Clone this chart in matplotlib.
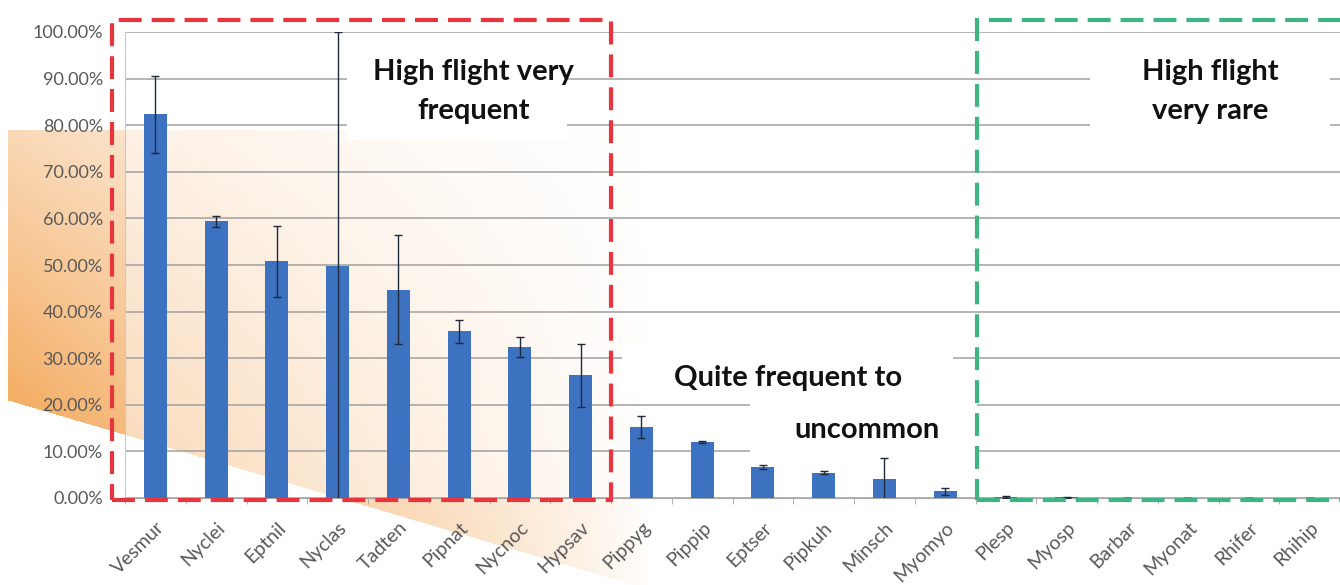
import matplotlib.pyplot as plt
import numpy as np
from matplotlib.patches import Rectangle

plt.rcParams['font.family'] = ['Lato', 'DejaVu Sans']

species = ["Vesmur", "Nyclei", "Eptnil", "Nyclas", "Tadten", "Pipnat", "Nycnoc", "Hypsav",
           "Pippyg", "Pippip", "Eptser", "Pipkuh", "Minsch", "Myomyo",
           "Plesp", "Myosp", "Barbar", "Myonat", "Rhifer", "Rhihip"]
freq = [82.3, 59.4, 50.8, 49.7, 44.7, 35.8, 32.4, 26.3,
        15.3, 12.0, 6.6, 5.4, 4.1, 1.4,
        0.3, 0.2, 0.0, 0.0, 0.0, 0.0]
err = [8.2, 1.2, 7.6, 50.3, 11.7, 2.5, 2.2, 6.7,
       2.4, 0.3, 0.4, 0.3, 4.5, 0.7,
       0.2, 0.1, 0.0, 0.0, 0.0, 0.0]
yticks = np.arange(0, 101, 10)

W, H = 1340, 585
fig = plt.figure(figsize=(W / 100, H / 100), dpi=100)

# orange decoration behind the chart (pixel grid of the figure)
yy, xx = np.mgrid[0:H, 0:W].astype(float)
diag = 400 + 0.295 * (xx - 8)
t = diag - yy
inside = (xx >= 8) & (yy >= 130) & (t >= 0)
fx = np.clip(1 - (xx - 8) / 640, 0, 1) ** 0.8
a = fx * np.clip(0.45 + 0.55 * (1 - t / 280), 0.2, 1) * inside
rgba = np.zeros((H, W, 4))
rgba[..., 0] = 0.95
rgba[..., 1] = 0.62
rgba[..., 2] = 0.28
rgba[..., 3] = a * 0.85
bg = fig.add_axes([0, 0, 1, 1], zorder=0)
bg.imshow(rgba, extent=[0, W, H, 0], aspect='auto', interpolation='bilinear')
bg.set_xlim(0, W)
bg.set_ylim(H, 0)
bg.axis('off')

ax = fig.add_axes([125 / W, 87 / H, 1215 / W, 466 / H], zorder=1)
ax.set_facecolor((1, 1, 1, 0.5))

x = np.arange(len(species))
ax.bar(x, freq, width=0.38, color='#3D72C1', zorder=3)
ax.errorbar(x, freq, yerr=err, fmt='none', ecolor='#1e2a3c', elinewidth=1,
            capsize=3, capthick=1, zorder=4)

ax.set_xlim(-0.5, len(species) - 0.5)
ax.set_ylim(0, 100)
ax.set_yticks(yticks)
ax.set_yticklabels([f"{v:.2f}%" for v in yticks], fontsize=13, color='#595959')
ax.set_xticks(x)
ax.set_xticklabels(species, rotation=45, ha='right', rotation_mode='anchor',
                   fontsize=14, color='#595959')
ax.set_xticks(np.arange(-0.5, len(species), 1), minor=True)
ax.tick_params(axis='x', which='major', length=0, pad=15)
ax.tick_params(axis='x', which='minor', length=4, color='#a6a6a6')
ax.tick_params(axis='y', length=0, pad=16)

ax.yaxis.grid(True, color='#a0a0a0', lw=1.1)
ax.set_axisbelow(True)
for s in ['top', 'right']:
    ax.spines[s].set_visible(False)
ax.spines['left'].set_color('#bfcbdc')
ax.spines['bottom'].set_color('#a6a6a6')

# dashed group boxes
ax.add_patch(Rectangle((-0.71, -0.4), 8.21, 103.0, fill=False, ec='#e8343c', lw=3,
                       ls=(0, (5.5, 2.4)), clip_on=False, zorder=5))
ax.add_patch(Rectangle((13.53, -0.4), 7.0, 103.0, fill=False, ec='#3db482', lw=3,
                       ls=(0, (5.5, 2.4)), clip_on=False, zorder=5))

# white label boxes hiding the grid
for x0, x1, y0, y1 in [(3.15, 6.78, 76.8, 98.3), (7.68, 13.13, 22.1, 32.8),
                       (9.79, 13.52, 6.4, 21.5), (15.38, 19.33, 76.8, 98.3)]:
    ax.add_patch(Rectangle((x0, y0), x1 - x0, y1 - y0, fc='white', ec='none', zorder=1))

tkw = dict(ha='center', va='center', fontsize=21, fontweight='bold', color='#111111', zorder=6)
ax.text(5.24, 91.4, "High flight very", **tkw)
ax.text(5.24, 83.0, "frequent", **tkw)
ax.text(10.41, 25.75, "Quite frequent to", **tkw)
ax.text(11.71, 14.6, "uncommon", **tkw)
ax.text(17.36, 91.4, "High flight", **tkw)
ax.text(17.36, 83.0, "very rare", **tkw)

plt.savefig("out.png", dpi=100)
